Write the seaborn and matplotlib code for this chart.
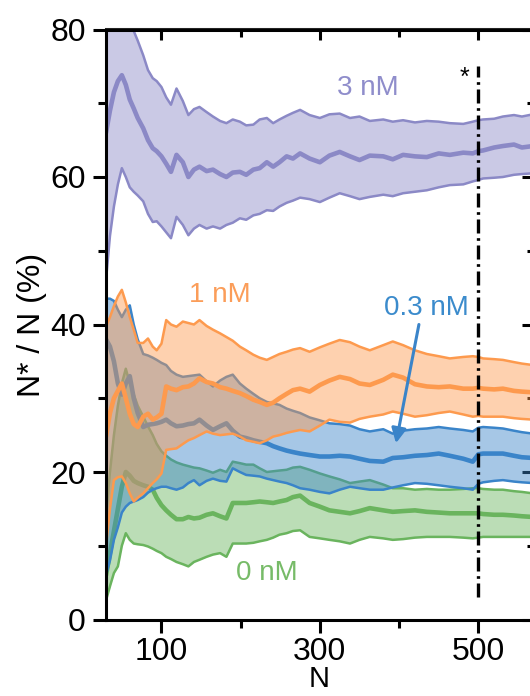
import matplotlib
matplotlib.use("Agg")
import matplotlib.pyplot as plt
import numpy as np
import pandas as pd
import seaborn as sns

# Cumulative fraction N*/N (%) versus number of events N, mean with confidence band
N = [30, 35, 40, 45, 50, 55, 60, 65, 70, 77,
     83, 89, 94, 100, 106, 112, 119, 127, 134, 141,
     148, 157, 165, 174, 182, 190, 199, 207, 216, 224,
     233, 241, 249, 258, 266, 275, 287, 300, 312, 325,
     338, 350, 363, 380, 392, 405, 420, 435, 450, 464,
     481, 493, 500, 506, 520, 531, 545, 555, 569]

# 3 nM
purple_mean = [66.0, 69.0, 71.5, 73.0, 73.8, 72.5, 70.5, 69.3, 68.0, 66.6,
               65.0, 63.9, 63.5, 62.8, 61.8, 60.7, 63.0, 62.0, 60.0, 61.0,
               61.4, 60.8, 61.0, 60.4, 60.0, 60.6, 60.7, 60.3, 61.0, 61.2,
               62.0, 61.4, 62.0, 62.8, 62.5, 63.2, 62.5, 62.0, 62.9, 63.4,
               62.8, 62.3, 62.9, 62.8, 62.4, 63.0, 62.8, 62.7, 63.2, 63.0,
               63.3, 63.2, 63.5, 63.6, 64.0, 64.2, 64.4, 64.0, 64.2]
purple_hi = [82.0, 85.0, 86.0, 86.0, 85.0, 83.0, 81.5, 79.8, 78.5, 76.5,
             74.5, 73.4, 73.0, 72.2, 70.8, 69.8, 72.0, 70.3, 68.4, 69.2,
             69.5, 68.8, 68.2, 67.6, 67.3, 67.8, 67.5, 67.0, 67.1, 67.8,
             68.0, 67.3, 67.8, 68.3, 68.7, 69.1, 68.4, 68.0, 68.5, 68.6,
             68.0, 68.2, 67.6, 67.8, 67.5, 67.7, 67.4, 67.6, 67.5, 67.3,
             67.2, 67.5, 67.7, 67.8, 67.9, 68.2, 68.4, 68.2, 68.5]
purple_lo = [46.0, 52.0, 56.0, 59.0, 61.2, 60.0, 58.6, 58.0, 57.5, 56.7,
             55.0, 53.9, 54.0, 53.3, 52.5, 51.7, 54.6, 53.5, 52.1, 53.0,
             53.5, 53.0, 53.3, 53.0, 53.5, 53.8, 54.4, 54.2, 54.8, 55.0,
             55.5, 55.4, 56.0, 56.5, 56.8, 57.2, 57.0, 56.6, 57.2, 57.8,
             57.4, 57.0, 57.3, 57.6, 57.4, 57.8, 58.0, 58.2, 58.6, 58.9,
             59.0, 59.4, 59.6, 59.8, 59.9, 60.0, 60.3, 60.4, 60.5]

# 1 nM
orange_mean = [24.8, 28.0, 30.0, 31.0, 32.0, 30.0, 27.9, 26.5, 26.1, 27.5,
               27.9, 27.1, 27.4, 27.9, 31.6, 31.3, 31.1, 31.5, 31.6, 32.0,
               32.7, 32.2, 32.0, 31.5, 31.3, 31.0, 30.7, 30.3, 29.8, 29.5,
               29.1, 29.4, 30.0, 30.6, 31.1, 31.3, 30.9, 31.8, 32.4, 32.9,
               32.6, 32.0, 31.8, 32.5, 33.2, 32.8, 31.9, 31.6, 31.5, 31.6,
               31.3, 31.3, 31.4, 31.3, 31.2, 31.3, 31.0, 30.9, 30.8]
orange_hi = [39.7, 41.0, 42.5, 43.8, 44.7, 43.0, 41.0, 39.3, 37.5, 37.5,
             38.1, 37.0, 36.5, 37.4, 40.6, 40.0, 39.7, 40.4, 40.2, 40.0,
             40.6, 39.8, 39.3, 38.8, 38.3, 37.8, 37.0, 36.5, 35.9, 35.5,
             35.2, 35.6, 36.0, 36.3, 36.6, 36.8, 36.3, 36.9, 37.4, 37.9,
             37.6, 37.0, 36.5, 37.2, 37.7, 37.2, 36.5, 36.0, 35.7, 35.4,
             35.6, 35.7, 35.6, 35.4, 35.3, 35.2, 34.9, 34.7, 34.5]
orange_lo = [9.9, 15.0, 18.9, 19.3, 19.4, 18.5, 17.1, 16.0, 16.5, 17.1,
             17.8, 18.5, 19.0, 19.8, 23.0, 23.1, 23.2, 23.8, 24.3, 24.6,
             25.0, 25.5, 25.2, 25.0, 25.1, 25.2, 24.8, 24.3, 24.1, 23.9,
             24.3, 24.8, 25.0, 25.3, 25.5, 25.7, 25.5, 26.3, 27.1, 26.8,
             26.7, 27.2, 27.5, 27.8, 28.2, 27.9, 27.5, 27.7, 28.0, 28.2,
             27.8, 27.5, 27.6, 27.5, 27.5, 27.5, 27.3, 27.2, 27.1]

# 0.3 nM
blue_mean = [38.0, 37.0, 35.0, 32.0, 30.5, 32.0, 33.0, 30.0, 28.0, 26.1,
             26.4, 26.5, 26.6, 26.8, 27.1, 26.6, 26.2, 26.3, 26.5, 26.6,
             27.1, 26.3, 25.7, 26.2, 26.6, 25.6, 24.8, 24.6, 24.3, 24.1,
             23.9, 23.5, 23.2, 22.9, 22.7, 22.5, 22.3, 22.1, 22.1, 22.2,
             22.1, 21.8, 21.5, 21.4, 21.9, 22.0, 22.2, 22.3, 22.5, 22.2,
             21.8, 21.4, 22.4, 22.5, 22.5, 22.5, 22.2, 22.0, 21.9]
blue_hi = [43.5, 43.5, 43.2, 42.0, 41.0, 42.0, 42.6, 40.0, 38.0, 36.0,
           35.8, 35.5, 35.2, 34.8, 34.5, 33.7, 33.2, 32.9, 33.0, 33.1,
           33.2, 32.3, 31.6, 32.4, 32.9, 33.2, 32.0, 31.3, 30.6, 30.0,
           29.5, 29.3, 29.1, 28.6, 28.3, 28.0, 27.4, 27.0, 26.6, 26.5,
           26.3, 25.8, 25.5, 25.8, 25.2, 25.6, 25.8, 25.9, 26.1, 25.9,
           25.7, 25.5, 26.0, 26.1, 26.0, 25.9, 25.6, 25.4, 25.2]
blue_lo = [6.0, 8.0, 10.8, 12.5, 14.5, 15.3, 15.8, 16.0, 16.2, 16.6,
           17.2, 17.6, 17.8, 18.0, 18.0, 17.8, 17.6, 17.9, 18.5, 18.9,
           18.2, 18.8, 19.1, 18.8, 18.7, 20.5, 20.0, 19.6, 19.5, 19.4,
           19.1, 18.9, 18.7, 18.5, 18.2, 17.8, 17.6, 17.3, 17.1, 17.6,
           18.0, 17.8, 17.6, 17.6, 17.9, 18.2, 18.5, 18.4, 18.2, 18.0,
           17.8, 17.6, 18.4, 18.6, 18.8, 18.9, 18.7, 18.6, 18.5]

# 0 nM
green_mean = [6.0, 9.0, 12.0, 15.0, 18.0, 20.0, 19.5, 18.8, 18.5, 18.2,
              18.0, 17.6, 16.5, 15.5, 14.8, 14.2, 13.6, 13.6, 13.9, 13.7,
              13.8, 14.2, 14.4, 14.0, 13.7, 15.8, 15.8, 15.8, 15.9, 16.0,
              15.9, 15.8, 16.0, 16.2, 16.6, 16.8, 15.8, 15.3, 14.8, 14.6,
              14.4, 14.7, 15.1, 14.8, 14.6, 14.7, 14.8, 14.6, 14.5, 14.4,
              14.4, 14.4, 14.4, 14.3, 14.2, 14.2, 14.1, 14.0, 13.9]
green_hi = [14.0, 20.0, 25.0, 29.0, 32.0, 34.0, 32.0, 30.5, 29.0, 27.5,
            26.2, 25.0, 23.8, 22.8, 22.2, 21.7, 21.3, 21.0, 20.8, 20.6,
            20.5, 20.2, 19.9, 20.3, 20.0, 21.4, 21.2, 21.0, 21.0, 20.5,
            20.0, 20.1, 20.2, 20.3, 20.6, 20.7, 20.3, 19.8, 19.4, 19.0,
            18.5, 18.7, 18.9, 18.3, 17.8, 17.8, 17.6, 17.7, 17.6, 17.6,
            17.7, 17.8, 17.8, 17.7, 17.6, 17.6, 17.4, 17.3, 17.1]
green_lo = [2.6, 4.5, 6.3, 7.2, 10.0, 11.7, 10.8, 10.3, 10.2, 10.1,
            9.9, 9.6, 9.3, 9.0, 8.5, 8.2, 7.8, 7.5, 7.2, 7.8,
            8.1, 8.5, 8.8, 9.0, 8.5, 10.3, 10.3, 10.3, 10.4, 10.6,
            10.8, 11.1, 11.5, 11.7, 12.0, 12.1, 11.2, 11.0, 10.8, 10.6,
            10.3, 10.8, 11.2, 11.0, 10.8, 10.9, 11.1, 11.2, 11.2, 11.2,
            11.1, 11.0, 11.1, 11.2, 11.2, 11.2, 11.2, 11.2, 11.2]

x_major = [100, 300, 500]
x_minor = [200, 400]
y_major = [0, 20, 40, 60, 80]
y_minor = [10, 30, 50, 70]
cutoff_N = 500

sns.set_theme(style="ticks")
plt.rcParams["font.family"] = ["Liberation Sans", "DejaVu Sans"]
plt.rcParams["text.color"] = "black"
plt.rcParams["axes.labelcolor"] = "black"
plt.rcParams["xtick.color"] = "black"
plt.rcParams["ytick.color"] = "black"

C_PURPLE = "#8b89c6"
C_ORANGE = "#fd9a4e"
C_BLUE = "#3a84c9"
C_GREEN = "#6ab45e"

series = [
    ("0 nM", green_mean, green_lo, green_hi, C_GREEN),
    ("0.3 nM", blue_mean, blue_lo, blue_hi, C_BLUE),
    ("1 nM", orange_mean, orange_lo, orange_hi, C_ORANGE),
    ("3 nM", purple_mean, purple_lo, purple_hi, C_PURPLE),
]

fig = plt.figure(figsize=(5.30, 6.96), dpi=100)
ax = fig.add_axes([106 / 530, (696 - 619.5) / 696, 427 / 530, 590 / 696])

for i, (name, m, lo, hi, col) in enumerate(series):
    df = pd.DataFrame({"N": N, "mean": m, "lo": lo, "hi": hi})
    z = 2 + i * 3
    ax.fill_between(df["N"], df["lo"], df["hi"], color=col, alpha=0.45,
                    linewidth=0, zorder=z)
    for col_name, lw in (("lo", 1.8), ("hi", 1.8), ("mean", 3.3)):
        sns.lineplot(data=df, x="N", y=col_name, ax=ax, color=col, lw=lw,
                     zorder=z + 0.5, estimator=None, sort=False)

# threshold line at N = 500
ax.vlines(cutoff_N, 3, 75, colors="black", lw=2.4,
          linestyles=[(0, (4.2, 1.4, 0.8, 1.4))], zorder=20)
ax.text(483, 73.4, "*", fontsize=18, color="black", ha="center", va="center")

ax.text(360, 72.1, "3 nM", fontsize=20, color="#8f8dcb", ha="center", va="center")
ax.text(173.5, 44.0, "1 nM", fontsize=20, color="#fb9d59", ha="center", va="center")
ax.text(434, 42.2, "0.3 nM", fontsize=20, color="#3b8bcc", ha="center", va="center")
ax.text(233, 6.3, "0 nM", fontsize=20, color="#77bb68", ha="center", va="center")
ax.annotate("", xy=(396, 23.9), xytext=(425, 40.0),
            arrowprops=dict(arrowstyle="-|>", color=C_BLUE, lw=2.2,
                            mutation_scale=22, shrinkA=0, shrinkB=0),
            zorder=25)

ax.set_xlim(30, 569)
ax.set_ylim(0, 80)
ax.set_xticks(x_major)
ax.set_xticks(x_minor, minor=True)
ax.set_yticks(y_major)
ax.set_yticks(y_minor, minor=True)
ax.set_xlabel("N", fontsize=21, labelpad=-1)
ax.set_ylabel("N* / N (%)", fontsize=23, labelpad=2)

for sp in ax.spines.values():
    sp.set_linewidth(2.2)
    sp.set_color("black")
    sp.set_zorder(30)
ax.tick_params(axis="both", which="major", direction="out", length=9.5,
               width=2.2, labelsize=23, pad=5, color="black", labelcolor="black")
ax.tick_params(axis="x", which="major", pad=3)
ax.tick_params(axis="both", which="minor", direction="out", length=6,
               width=2.2, color="black")
ax.tick_params(top=False, right=False, which="both")

top = ax.secondary_xaxis("top")
top.set_xticks(x_major)
top.set_xticks(x_minor, minor=True)
top.tick_params(which="major", direction="in", length=8, width=2.2, labeltop=False)
top.tick_params(which="minor", direction="in", length=6, width=2.2)
top.spines["top"].set_linewidth(2.2)

right = ax.secondary_yaxis("right")
right.set_yticks(y_major)
right.set_yticks(y_minor, minor=True)
right.tick_params(which="major", direction="in", length=8, width=2.2, labelright=False)
right.tick_params(which="minor", direction="in", length=4, width=2.2)
right.spines["right"].set_linewidth(2.2)

fig.savefig("out.png", dpi=100)
